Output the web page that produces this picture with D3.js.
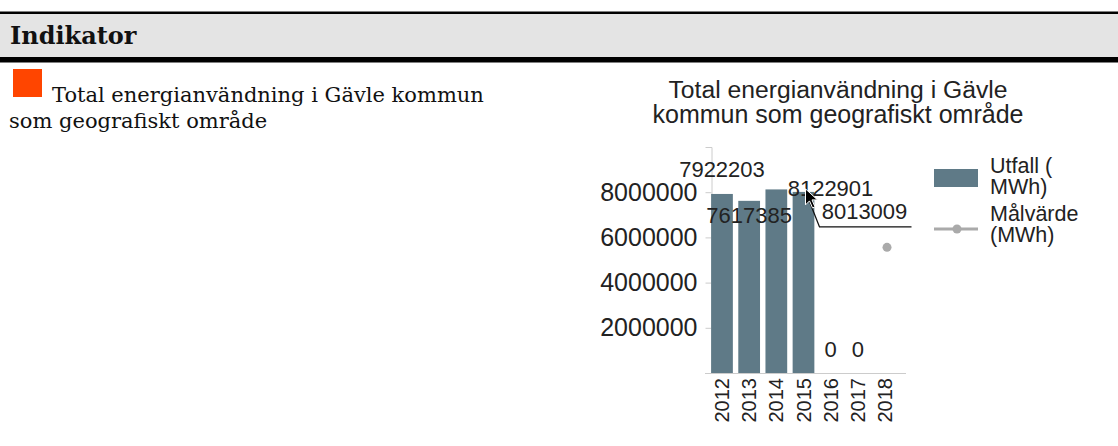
<!DOCTYPE html>
<html>
<head>
<meta charset="utf-8">
<script src="https://cdn.jsdelivr.net/npm/d3@7"></script>
<style>
  body { margin: 0; background: #fff; }
  svg text { font-family: "Liberation Sans", Arial, sans-serif; fill: #222; }
  .serif { font-family: "DejaVu Serif", Georgia, serif; fill: #111; }
</style>
</head>
<body>
<svg id="page" width="1118" height="446"></svg>
<script>
// data
var years = ["2012", "2013", "2014", "2015", "2016", "2017", "2018"];
var utfall = [7922203, 7617385, 8122901, 8013009, 0, 0, null];
var malvarde = [null, null, null, null, null, null, 5560000];
var yTicks = [2000000, 4000000, 6000000, 8000000];
var titleLines = ["Total energianvändning i Gävle", "kommun som geografiskt område"];
var legendItems = [["Utfall (", "MWh)"], ["Målvärde", "(MWh)"]];

var barColor = "#5f7a87";
var dotColor = "#aaaaaa";
var axisColor = "#cccccc";

var svg = d3.select("#page");

// header band
svg.append("rect").attr("x", 0).attr("y", 13).attr("width", 1118).attr("height", 45).attr("fill", "#e4e4e4");
svg.append("rect").attr("x", 0).attr("y", 11.5).attr("width", 1118).attr("height", 2.5).attr("fill", "#000");
svg.append("rect").attr("x", 0).attr("y", 57).attr("width", 1118).attr("height", 5.5).attr("fill", "#000");
svg.append("text").attr("class", "serif").attr("x", 10).attr("y", 44)
  .style("font-size", "24px").style("font-weight", "bold").text("Indikator");

// indicator text with status square
svg.append("rect").attr("x", 13).attr("y", 69).attr("width", 29).attr("height", 28).attr("fill", "#ff4500");
svg.append("text").attr("class", "serif").attr("x", 52).attr("y", 102)
  .style("font-size", "21px").text("Total energianvändning i Gävle kommun");
svg.append("text").attr("class", "serif").attr("x", 9).attr("y", 128)
  .style("font-size", "21px").text("som geografiskt område");

// chart
var x = d3.scaleBand().domain(years).range([708.4, 898.6]).paddingInner(0.2).paddingOuter(0.1);
var y = d3.scaleLinear().domain([0, 10000000]).range([373, 147]);
var axisX = 711.5;

var title = svg.append("text").attr("text-anchor", "middle");
title.selectAll("tspan").data(titleLines).enter().append("tspan")
  .attr("x", 838).attr("y", function(d, i) { return 98 + i * 25; })
  .style("font-size", function(d, i) { return i == 0 ? "24.7px" : "25px"; })
  .text(function(d) { return d; });

// y axis
var yAxis = d3.axisLeft(y).tickValues(yTicks).tickSize(6).tickSizeOuter(6)
  .tickFormat(function(d) { return "" + d; });
var ya = svg.append("g").attr("transform", "translate(" + axisX + ",0)").call(yAxis);
ya.select(".domain").attr("stroke", axisColor);
ya.selectAll(".tick line").attr("stroke", axisColor);
ya.selectAll(".tick text").attr("x", -14).style("font-size", "25px")
  .style("font-family", "Liberation Sans, Arial, sans-serif").attr("fill", "#222");

// bars
svg.selectAll(".bar").data(years).enter().append("rect")
  .attr("class", "bar")
  .attr("x", function(d) { return x(d); })
  .attr("width", x.bandwidth())
  .attr("y", function(d, i) { return utfall[i] == null ? y(0) : y(utfall[i]); })
  .attr("height", function(d, i) { return utfall[i] == null ? 0 : y(0) - y(utfall[i]); })
  .attr("fill", barColor);

// x axis
svg.append("line").attr("x1", 705).attr("x2", 906).attr("y1", y(0) + 0.5).attr("y2", y(0) + 0.5)
  .attr("stroke", axisColor);
svg.selectAll(".year").data(years).enter().append("text")
  .attr("class", "year")
  .attr("transform", function(d) { return "translate(" + (x(d) + x.bandwidth() / 2 + 7) + "," + (y(0) + 5) + ") rotate(-90)"; })
  .attr("text-anchor", "end")
  .style("font-size", "20px")
  .text(function(d) { return d; });

// target dots
svg.selectAll(".dot").data(years).enter().filter(function(d, i) { return malvarde[i] != null; })
  .append("circle")
  .attr("cx", function(d) { return x(d) + x.bandwidth() / 2 + 2; })
  .attr("cy", function(d) { return y(malvarde[years.indexOf(d)]); })
  .attr("r", 4.5).attr("fill", dotColor);

// value labels, spread out where they would collide
var bw = x.bandwidth();
function labelPos(i) {
  var cx = x(years[i]) + bw / 2, top = y(utfall[i]);
  if (utfall[i] == 0) return [cx, top - 16];
  if (i == 1) return [cx, top + 22];
  if (i == 2) return [x(years[3]) + bw / 2 + 27, top + 7];
  if (i == 3) return [cx + 61, top + 27];
  return [cx, top - 17];
}
var lab = svg.append("g").style("font-size", "22px");
utfall.forEach(function(v, i) {
  if (v == null) return;
  var p = labelPos(i);
  lab.append("text").attr("x", p[0]).attr("y", p[1]).attr("text-anchor", "middle").text("" + v);
});
// callout leader for 2015
var c15 = x(years[3]) + bw / 2, t15 = y(utfall[3]);
svg.append("path")
  .attr("d", d3.line()([[c15 + 3, t15 + 2], [c15 + 16, t15 + 35], [c15 + 108, t15 + 35]]))
  .attr("fill", "none").attr("stroke", "#111").attr("stroke-width", 1.3);

// mouse pointer
svg.append("path")
  .attr("transform", "translate(" + (c15 + 2) + "," + (t15 - 3) + ")")
  .attr("d", "M0,0 L0,16 L4,12 L7,19 L9.5,18 L6.5,11 L12,11 Z")
  .attr("fill", "#000").attr("stroke", "#fff").attr("stroke-width", 1);

// legend
var lg = svg.append("g").style("font-size", "21.5px");
lg.append("rect").attr("x", 934).attr("y", 169).attr("width", 44).attr("height", 18).attr("fill", barColor);
lg.append("line").attr("x1", 934).attr("x2", 978).attr("y1", 229).attr("y2", 229)
  .attr("stroke", dotColor).attr("stroke-width", 3);
lg.append("circle").attr("cx", 957).attr("cy", 229).attr("r", 4.5).attr("fill", dotColor);
legendItems.forEach(function(lines, k) {
  var t = lg.append("text");
  lines.forEach(function(s, j) {
    t.append("tspan").attr("x", 990).attr("y", 173 + k * 48 + j * 21).text(s);
  });
});
</script>
</body>
</html>
